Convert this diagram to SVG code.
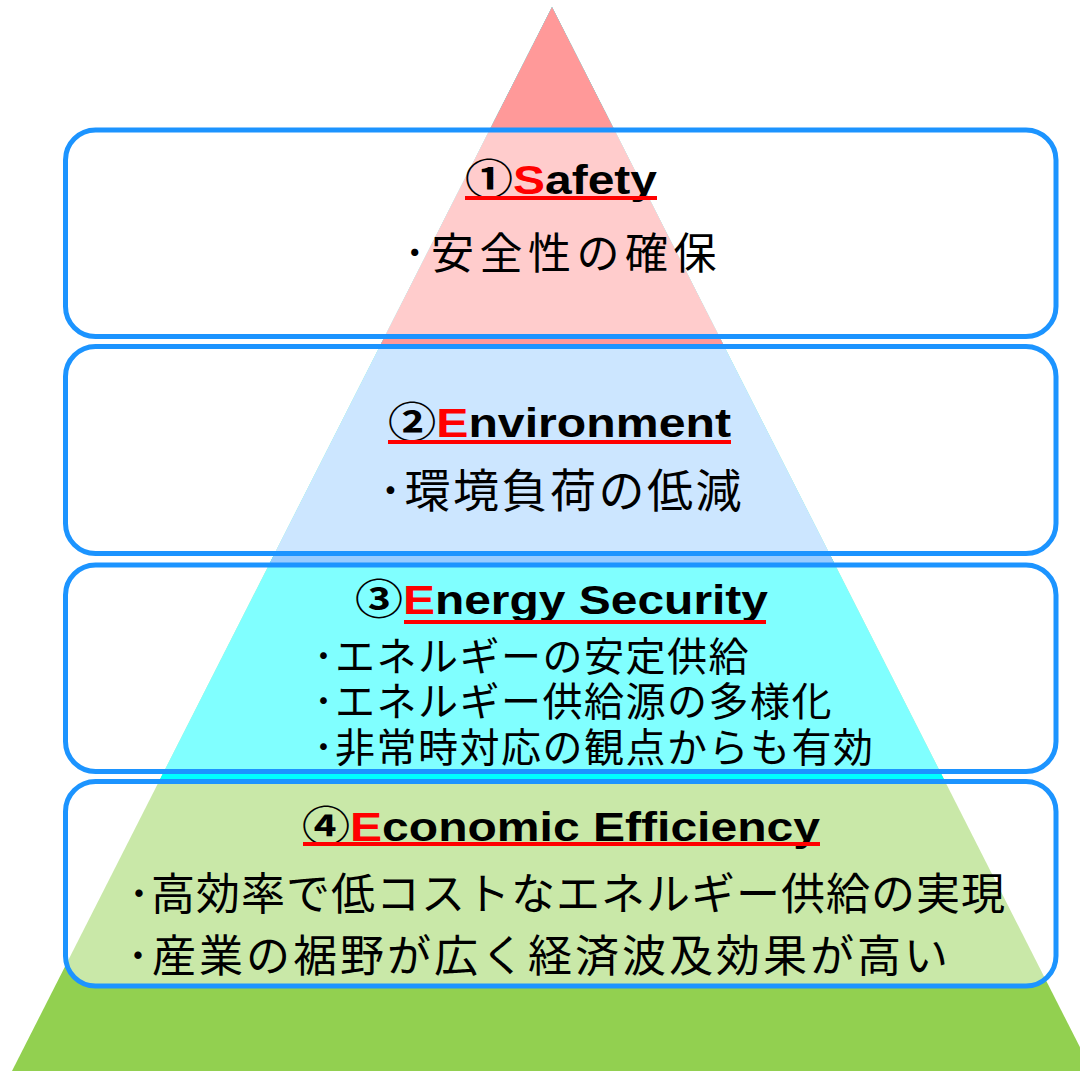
<svg xmlns="http://www.w3.org/2000/svg" width="1080" height="1071" viewBox="0 0 1080 1071">
<style>
.box{fill:#FFFFFF;fill-opacity:0.5;stroke:#1C94FF;stroke-width:5}
.title{font-family:"Liberation Sans","Noto Sans CJK JP",sans-serif;font-weight:bold;font-size:41px;fill:#000}
.red{fill:#FF0000}
.ul{stroke:#FF0000;stroke-width:4}
.body{font-family:"Noto Sans CJK JP","Noto Sans CJK SC",sans-serif;fill:#000}
</style>
<rect width="1080" height="1071" fill="#FFFFFF"/>
<g id="pyramid">
<polygon points="552,7 1092,1071 12,1071" fill="#92D050"/>
<polygon points="552,7 945.1,781.5 158.9,781.5" fill="#00FFFF"/>
<polygon points="552,7 835.2,565 268.8,565" fill="#99CCFF"/>
<polygon points="552,7 724.3,346.5 379.7,346.5" fill="#FF9999"/>
</g>
<g id="connectors"></g>
<g id="safety">
<rect class="box" x="65.5" y="130" width="990.5" height="206.5" rx="30"/>
<text class="title" x="465" y="193.5" textLength="192" lengthAdjust="spacingAndGlyphs">①<tspan class="red">S</tspan>afety</text>
<line class="ul" x1="465" y1="198" x2="657" y2="198"/>
<text class="body" x="404" y="269" font-size="43" letter-spacing="5.5">･安全性の確保</text>
</g>
<g id="environment">
<rect class="box" x="65.5" y="346.5" width="990.5" height="207" rx="30"/>
<text class="title" x="388" y="437" textLength="343" lengthAdjust="spacingAndGlyphs">②<tspan class="red">E</tspan>nvironment</text>
<line class="ul" x1="388" y1="442" x2="731" y2="442"/>
<text class="body" x="379" y="507" font-size="46" letter-spacing="2.5">･環境負荷の低減</text>
</g>
<g id="energy-security">
<rect class="box" x="65.5" y="565" width="990.5" height="206.5" rx="30"/>
<text class="title" x="355" y="614" textLength="413" lengthAdjust="spacingAndGlyphs">③<tspan class="red">E</tspan>nergy Security</text>
<line class="ul" x1="404" y1="622" x2="766" y2="622"/>
<text class="body" x="313.5" y="671" font-size="40" letter-spacing="1.5">･エネルギーの安定供給</text>
<text class="body" x="313.5" y="716" font-size="40" letter-spacing="1.5">･エネルギー供給源の多様化</text>
<text class="body" x="313.5" y="762" font-size="40" letter-spacing="1.5">･非常時対応の観点からも有効</text>
</g>
<g id="economic-efficiency">
<rect class="box" x="65.5" y="781.5" width="990.5" height="204.5" rx="30"/>
<text class="title" x="302" y="840.5" textLength="518" lengthAdjust="spacingAndGlyphs">④<tspan class="red">E</tspan>conomic Efficiency</text>
<line class="ul" x1="303" y1="844" x2="820" y2="844"/>
<text class="body" x="128" y="910" font-size="44" letter-spacing="1">･高効率で低コストなエネルギー供給の実現</text>
<text class="body" x="127" y="972" font-size="44" letter-spacing="3">･産業の裾野が広く経済波及効果が高い</text>
</g>
</svg>
